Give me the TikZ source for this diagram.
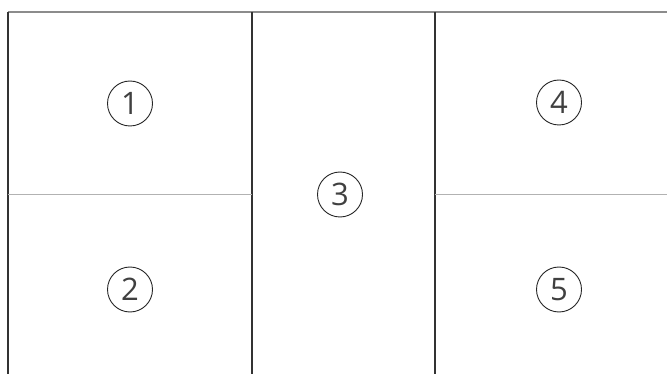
\documentclass[tikz,border=0pt]{standalone}
\usepackage{fontspec}
\setmainfont{Open Sans}
\begin{document}
\begin{tikzpicture}[x=1pt,y=-1pt,
  numcirc/.style={circle,draw=black!85,line width=0.9pt,minimum size=45pt,inner sep=0pt,font=\fontsize{31}{31}\selectfont,text=black!75},
  darkline/.style={draw=black!80,line width=1.1pt},
  topline/.style={draw=black!45,line width=1.2pt},
  midline/.style={draw=black!30,line width=1pt}]
\useasboundingbox (0,0) rectangle (667,374);
\coordinate (tl) at (8,12);
\coordinate (tr) at (667,12);
\coordinate (bl) at (8,374);
\coordinate (v1t) at (252,12);
\coordinate (v1b) at (252,374);
\coordinate (v2t) at (435,12);
\coordinate (v2b) at (435,374);
\coordinate (hl1) at (8,195);
\coordinate (hl2) at (252,195);
\coordinate (hr1) at (435,195);
\coordinate (hr2) at (667,195);
\draw[topline] (tl) -- (tr);
\draw[darkline] (tl) -- (bl);
\draw[darkline] (v1t) -- (v1b);
\draw[darkline] (v2t) -- (v2b);
\draw[midline] (hl1) -- (hl2);
\draw[midline] (hr1) -- (hr2);
\node[numcirc] (c1) at (130,103.5) {1};
\node[numcirc] (c2) at (130,289.5) {2};
\node[numcirc] (c3) at (340,194.5) {3};
\node[numcirc] (c4) at (559,102.5) {4};
\node[numcirc] (c5) at (559,289.5) {5};
\end{tikzpicture}
\end{document}
